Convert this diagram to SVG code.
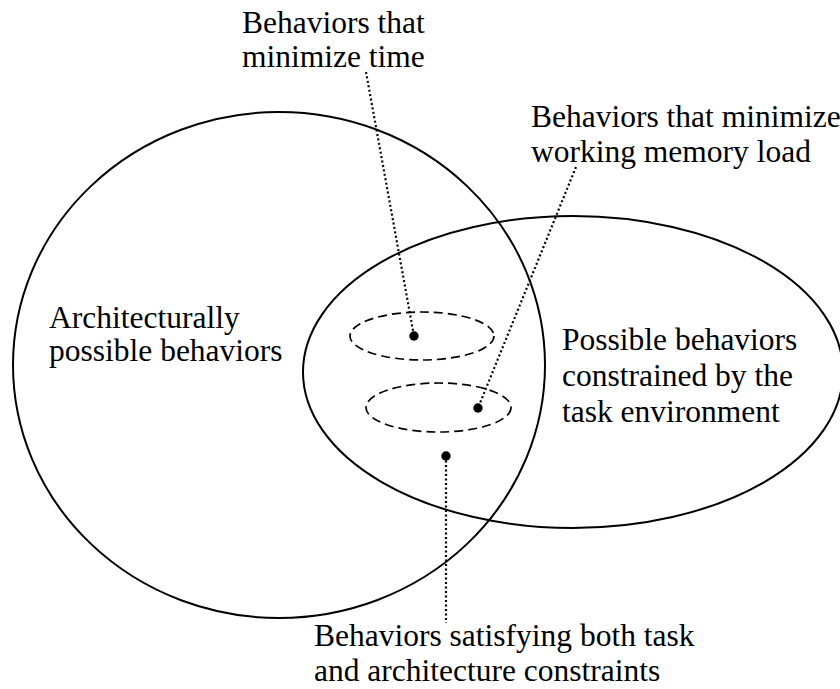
<svg xmlns="http://www.w3.org/2000/svg" width="840" height="689" viewBox="0 0 840 689">
<style>
.big{fill:none;stroke:#000;stroke-width:2}
.sub{fill:none;stroke:#000;stroke-width:1.7;stroke-dasharray:9 5}
.lead{fill:none;stroke:#000;stroke-width:2.2;stroke-dasharray:2 2.5}
.dot{fill:#000}
text{font-family:"Liberation Serif","Times New Roman",serif;font-size:31.5px;fill:#000}
</style>
<rect width="840" height="689" fill="#fff"/>
<g id="arch">
<ellipse class="big" cx="279" cy="365" rx="266" ry="253"/>
<text x="49" y="328">Architecturally</text>
<text x="49" y="361">possible behaviors</text>
</g>
<g id="task">
<ellipse class="big" cx="573" cy="372" rx="270" ry="156"/>
<text x="562" y="350">Possible behaviors</text>
<text x="562" y="386">constrained by the</text>
<text x="562" y="422">task environment</text>
</g>
<g id="min-time">
<ellipse class="sub" cx="422" cy="336" rx="72" ry="24"/>
</g>
<g id="min-wm">
<ellipse class="sub" cx="438.5" cy="407.5" rx="72.5" ry="24.5"/>
</g>
<g id="label-time">
<text x="242" y="33">Behaviors that</text>
<text x="242" y="67">minimize time</text>
</g>
<g id="label-wm">
<text x="531" y="127">Behaviors that minimize</text>
<text x="531" y="162">working memory load</text>
</g>
<g id="label-both">
<text x="314" y="646">Behaviors satisfying both task</text>
<text x="314" y="681">and architecture constraints</text>
</g>
<g id="connectors">
<line class="lead" x1="366" y1="72" x2="414" y2="336"/>
<line class="lead" x1="576" y1="167" x2="478" y2="408"/>
<line class="lead" x1="446" y1="456" x2="446" y2="623"/>
<circle class="dot" cx="414" cy="336" r="4.7"/>
<circle class="dot" cx="478" cy="408" r="4.7"/>
<circle class="dot" cx="446" cy="456" r="4.7"/>
</g>
</svg>
